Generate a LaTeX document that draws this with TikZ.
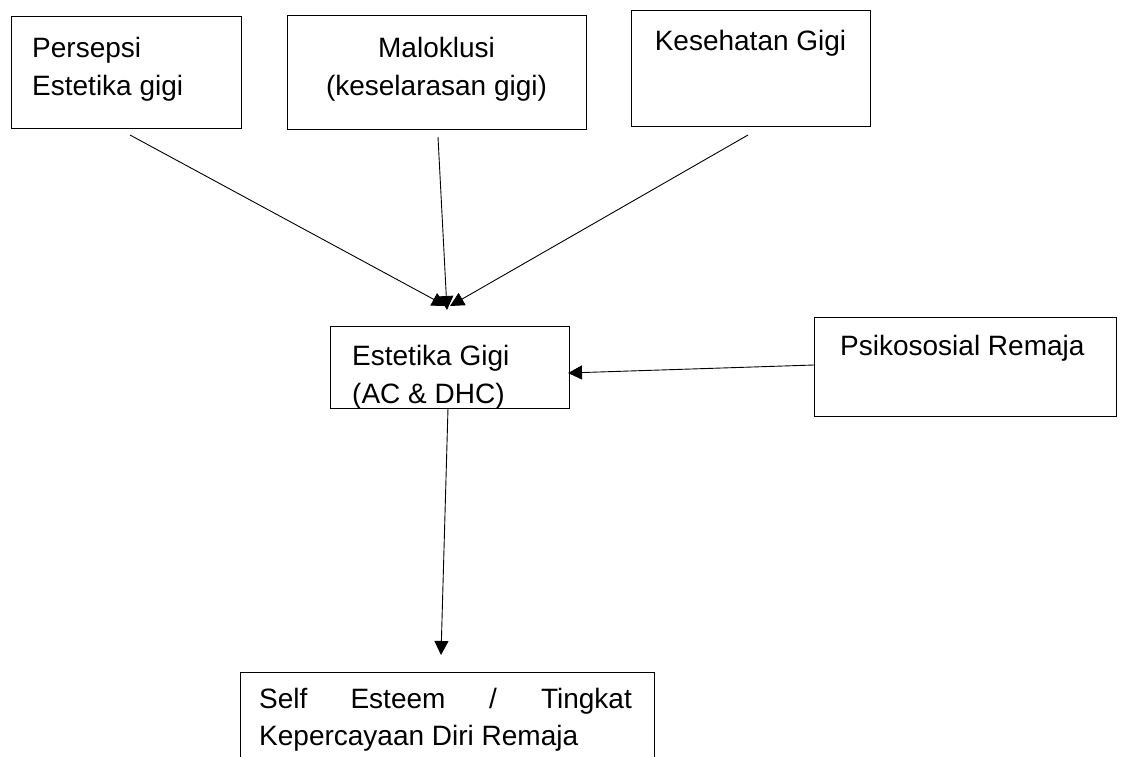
\documentclass[tikz,border=0pt]{standalone}
\usepackage{fontspec}
\setmainfont{Liberation Sans}
\usetikzlibrary{arrows.meta}
\begin{document}
\begin{tikzpicture}[x=1pt,y=-1pt,
  box/.style={draw, line width=0.9pt, inner sep=0pt, anchor=north west},
  lbl/.style={inner sep=0pt, anchor=base west, font=\fontsize{28}{38}\selectfont},
  conn/.style={line width=0.9pt, -{Triangle[length=14pt,width=14pt]}}]
\useasboundingbox (0,0) rectangle (1122,756);
\begin{scope}
\clip (0,0) rectangle (1122,756);
% boxes
\node[box, minimum width=230pt, minimum height=112pt] (b1) at (11,16) {};
\node[box, minimum width=299pt, minimum height=114pt] (b2) at (287,15) {};
\node[box, minimum width=239pt, minimum height=116pt] (b3) at (631,10) {};
\node[box, minimum width=239pt, minimum height=82pt] (b4) at (330,326) {};
\node[box, minimum width=302pt, minimum height=99pt] (b5) at (814,317) {};
\node[box, minimum width=414pt, minimum height=110pt] (b6) at (240,672) {};
% texts
\node[lbl] (t1a) at (32,57) {Persepsi};
\node[lbl] (t1b) at (32,95) {Estetika gigi};
\node[lbl, anchor=base] (t2a) at (436.5,57) {Maloklusi};
\node[lbl, anchor=base] (t2b) at (436.5,95) {(keselarasan gigi)};
\node[lbl, anchor=base] (t3) at (750.5,50) {Kesehatan Gigi};
\node[lbl] (t4a) at (352,365) {Estetika Gigi};
\node[lbl] (t4b) at (352,403) {(AC \& DHC)};
\node[lbl] (t5) at (840,355) {Psikososial Remaja};
\node[lbl] (t6a) at (259,708) {Self};
\node[lbl, anchor=base] (t6b) at (398,708) {Esteem};
\node[lbl, anchor=base] (t6c) at (493,708) {/};
\node[lbl, anchor=base east] (t6d) at (632,708) {Tingkat};
\node[lbl] (t6e) at (259,745) {Kepercayaan Diri Remaja};
\end{scope}
% connector end points
\coordinate (s1) at (130,135);
\coordinate (s2) at (438,137);
\coordinate (s3) at (748,135);
\coordinate (e1) at (446,306);
\coordinate (e2) at (447,310);
\coordinate (e3) at (450,306);
\coordinate (s5) at (814,365);
\coordinate (e5) at (568,373);
\coordinate (s4) at (448,408);
\coordinate (e4) at (441,655);
\draw[conn] (s1) -- (e1);
\draw[conn] (s3) -- (e3);
\draw[conn] (s2) -- (e2);
\draw[conn] (s5) -- (e5);
\draw[conn] (s4) -- (e4);
\end{tikzpicture}
\end{document}
